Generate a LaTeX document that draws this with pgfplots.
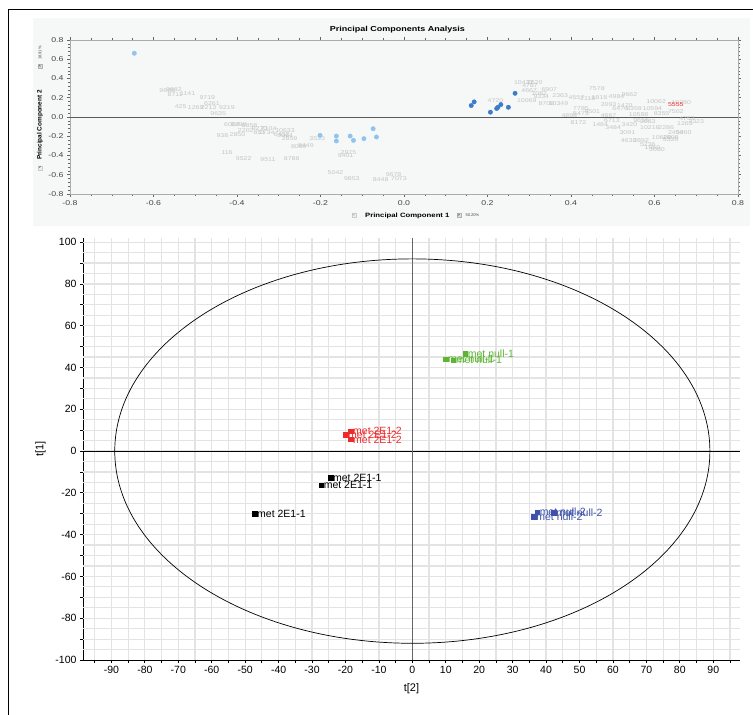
\documentclass[border=0pt]{standalone}
\usepackage{fontspec}
\setmainfont{Liberation Sans}
\newfontfamily\widefont{Liberation Sans}[FakeStretch=1.25]
\usepackage{pgfplots}
\pgfplotsset{compat=1.18}
\definecolor{lightpt}{HTML}{8EC4EE}
\definecolor{darkpt}{HTML}{3C7CCB}
\definecolor{lblgray}{HTML}{C4C4C4}
\definecolor{panelbg}{HTML}{F6F8F8}
\definecolor{gnull}{HTML}{5DB531}
\definecolor{rtwo}{HTML}{EE2B2B}
\definecolor{bnull}{HTML}{3D52A8}
\definecolor{tickgray}{HTML}{444444}

\begin{document}
\begin{tikzpicture}[x=1pt,y=1pt]
\path[use as bounding box] (0,0) rectangle (753,715);
\draw[line width=1pt] (8.5,0) -- (8.5,705) -- (753,705);
\fill[panelbg] (33,489) rectangle (750,697);

% loadings / scores overview
\begin{axis}[
  at={(70pt,521pt)}, anchor=south west,
  scale only axis, width=668pt, height=154pt,
  xmin=-0.8, xmax=0.8, ymin=-0.8, ymax=0.8,
  xtick={-0.8,-0.6,-0.4,-0.2,0,0.2,0.4,0.6,0.8},
  ytick={-0.8,-0.6,-0.4,-0.2,0,0.2,0.4,0.6,0.8},
  minor x tick num=3, minor y tick num=4,
  tick align=outside, major tick length=3pt, minor tick length=1.8pt,
  tick style={gray!80!black, line width=0.5pt},
  axis line style={gray!65, line width=0.6pt},
  ticklabel style={font=\widefont\fontsize{7}{8}\selectfont, text=tickgray},
  xticklabel style={/pgf/number format/fixed, /pgf/number format/fixed zerofill, /pgf/number format/precision=1},
  yticklabel style={/pgf/number format/fixed, /pgf/number format/fixed zerofill, /pgf/number format/precision=1},
  /pgf/number format/assume math mode=true,
  clip=false,
]
\addplot[gray!70!black, line width=0.7pt] coordinates {(-0.8,0) (0.8,0)};

\addplot[only marks, mark=none, nodes near coords, point meta=explicit symbolic,
  every node near coord/.append style={anchor=center, inner sep=0pt, text=lblgray,
    font=\widefont\fontsize{5.6}{6}\selectfont}]
  table[meta=l] {
x y l
-0.567 0.274 9666
-0.551 0.284 9682
-0.548 0.232 8711
-0.518 0.239 1141
-0.471 0.198 9719
-0.460 0.136 6261
-0.535 0.105 425
-0.499 0.098 1269
-0.468 0.098 2213
-0.424 0.098 9219
-0.445 0.040 9635
-0.412 -0.077 6004
-0.396 -0.077 8290
-0.370 -0.088 8858
-0.379 -0.139 2202
-0.399 -0.184 2850
-0.435 -0.191 938
-0.346 -0.122 9270
-0.346 -0.167 851
-0.324 -0.122 7104
-0.329 -0.160 2734
-0.285 -0.136 10633
-0.293 -0.181 6432
-0.285 -0.198 3064
-0.274 -0.229 2859
-0.208 -0.225 3533
-0.252 -0.311 8060
-0.235 -0.301 8449
-0.424 -0.370 116
-0.384 -0.435 9522
-0.326 -0.442 9511
-0.269 -0.428 8786
-0.133 -0.370 2975
-0.140 -0.404 9401
-0.164 -0.573 5042
-0.125 -0.638 9853
-0.025 -0.601 9678
-0.056 -0.645 8448
-0.012 -0.635 7073
0.287 0.353 10432
0.313 0.353 2620
0.302 0.325 4787
0.300 0.270 4667
0.324 0.243 1082
0.348 0.287 6907
0.374 0.225 2363
0.294 0.174 10069
0.341 0.139 8708
0.370 0.136 10349
0.329 0.215 9334
0.462 0.294 7578
0.413 0.198 4557
0.440 0.187 2118
0.468 0.198 1818
0.509 0.212 4984
0.540 0.232 9662
0.490 0.129 2093
0.529 0.122 1470
0.518 0.088 6476
0.551 0.084 6359
0.424 0.088 7785
0.451 0.060 9501
0.396 0.015 4898
0.424 0.036 5473
0.604 0.163 10062
0.664 0.153 10280
0.595 0.084 10594
0.651 0.060 7502
0.562 0.026 10588
0.617 0.033 8355
0.418 -0.053 8172
0.490 0.019 4667
0.470 -0.077 1484
0.498 -0.036 6713
0.501 -0.112 3484
0.568 -0.036 9616
0.540 -0.077 3420
0.584 -0.050 2083
0.589 -0.112 10216
0.628 -0.112 2286
0.535 -0.167 3091
0.538 -0.249 4630
0.568 -0.243 2892
0.584 -0.284 5236
0.617 -0.215 10620
0.639 -0.232 5320
0.595 -0.318 1060
0.700 -0.050 2323
0.673 -0.071 1263
0.670 -0.163 5460
0.651 -0.163 2450
0.639 -0.215 1808
0.606 -0.335 3080
0.678 -0.019 4753
0.219 0.174 4720
};
\addplot[only marks, mark=none, nodes near coords, point meta=explicit symbolic,
  every node near coord/.append style={anchor=center, inner sep=0pt, text=rtwo,
    font=\widefont\fontsize{5.6}{6}\selectfont}]
  table[meta=l] {
x y l
0.651 0.129 5555
};

\addplot[only marks, mark=*, mark size=2.2pt, lightpt, mark options={draw=lightpt, fill=lightpt}]
  coordinates {(-0.646,0.662) (-0.201,-0.191) (-0.162,-0.198) (-0.162,-0.249) (-0.129,-0.198)
               (-0.121,-0.243) (-0.096,-0.225) (-0.074,-0.122) (-0.066,-0.208)};
\addplot[only marks, mark=*, mark size=2.2pt, darkpt, mark options={draw=darkpt, fill=darkpt}]
  coordinates {(0.161,0.119) (0.168,0.157) (0.207,0.050) (0.222,0.088) (0.225,0.101)
               (0.232,0.129) (0.250,0.101) (0.266,0.246)};

\node[font=\widefont\bfseries\fontsize{7.2}{8}\selectfont] at (axis description cs:0.49,1.065) {Principal Components Analysis};
\node[font=\widefont\bfseries\fontsize{6.2}{7}\selectfont] at (axis description cs:0.505,-0.14) {Principal Component 1};
\node[draw=gray!40, fill=gray!12, inner sep=0.8pt, font=\fontsize{4}{4}\selectfont, text=gray] at (axis description cs:0.425,-0.14) {<};
\node[draw=gray!60, fill=gray!25, inner sep=0.8pt, font=\fontsize{4}{4}\selectfont] at (axis description cs:0.582,-0.14) {>};
\node[anchor=west, inner sep=0pt, font=\fontsize{4}{4}\selectfont, text=tickgray] at (axis description cs:0.592,-0.14) {50.20\%};
\node[rotate=90, font=\bfseries\fontsize{6.4}{7}\selectfont] at (axis description cs:-0.045,0.448) {Principal Component 2};
\node[draw=gray!40, fill=gray!12, inner sep=0.8pt, rotate=90, font=\fontsize{4}{4}\selectfont] at (axis description cs:-0.045,0.17) {<};
\node[draw=gray!60, fill=gray!25, inner sep=0.8pt, rotate=90, font=\fontsize{4}{4}\selectfont] at (axis description cs:-0.045,0.83) {>};
\node[rotate=90, anchor=west, inner sep=0pt, font=\fontsize{4}{4}\selectfont, text=tickgray] at (axis description cs:-0.045,0.87) {18.91\%};
\end{axis}

% score plot t[2] / t[1]
\begin{axis}[
  at={(83pt,55pt)}, anchor=south west,
  scale only axis, width=657pt, height=422pt,
  xmin=-98.5, xmax=98, ymin=-100, ymax=102,
  axis x line*=bottom, axis y line*=left,
  axis line style={-, black, line width=0.8pt},
  xtick={-90,-80,...,90}, minor xtick={-95,-85,...,95},
  ytick={-100,-80,...,100}, minor ytick={-90,-70,...,90},
  tick align=center, major tick length=6pt, minor tick length=6pt,
  tick style={black, line width=0.8pt},
  extra x ticks={-95,-90,...,95}, extra y ticks={-95,-90,...,100},
  extra x tick labels={}, extra y tick labels={},
  extra tick style={grid=major, major tick length=0pt, major grid style={black!11, line width=1.2pt}},
  ticklabel style={font=\fontsize{10.5}{12}\selectfont},
  /pgf/number format/assume math mode=true,
  xlabel={t[2]}, ylabel={t[1]},
  label style={font=\fontsize{11}{13}\selectfont},
  clip=false,
]
\addplot[black, line width=0.8pt] coordinates {(-98.5,0) (98,0)};
\addplot[black!60, line width=1.3pt] coordinates {(0,-100) (0,102)};
\draw[black, line width=0.7pt] (axis cs:0,0) ellipse [x radius=89, y radius=92];

\addplot[only marks, mark=square*, mark size=2.3pt, gnull, nodes near coords={met null-1},
  every node near coord/.append style={anchor=west, xshift=2pt, inner sep=0.5pt, text=gnull,
    font=\fontsize{10.5}{12}\selectfont}]
  coordinates {(9.9,44.0) (12.2,43.5) (15.8,46.5)};
\addplot[only marks, mark=square*, mark size=2.3pt, bnull, nodes near coords={met null-2},
  every node near coord/.append style={anchor=west, xshift=2pt, inner sep=0.5pt, text=bnull,
    font=\fontsize{10.5}{12}\selectfont}]
  coordinates {(36.3,-31.4) (37.3,-29.2) (42.3,-29.5)};
\addplot[only marks, mark=square*, mark size=2.3pt, rtwo, nodes near coords={met 2E1-2},
  every node near coord/.append style={anchor=west, xshift=2pt, inner sep=0.5pt, text=rtwo,
    font=\fontsize{10.5}{12}\selectfont}]
  coordinates {(-20.0,7.7) (-18.5,9.6) (-18.5,5.6)};
\addplot[only marks, mark=square*, mark size=2.3pt, black, nodes near coords={met 2E1-1},
  every node near coord/.append style={anchor=west, xshift=2pt, inner sep=0.5pt, text=black,
    font=\fontsize{10.5}{12}\selectfont}]
  coordinates {(-24.5,-12.8) (-27.3,-16.3) (-47.2,-30.0)};
\end{axis}
\end{tikzpicture}
\end{document}
